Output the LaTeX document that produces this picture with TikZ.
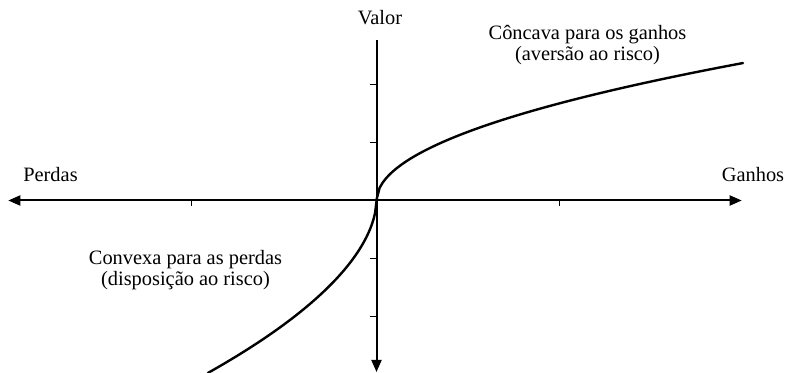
\documentclass[tikz,border=0pt]{standalone}
\usepackage{fontspec}
\setmainfont{Liberation Serif}
\usetikzlibrary{arrows.meta}

\begin{document}
\begin{tikzpicture}[x = 0.5pt, y = 0.5pt,
  every node/.style = {font=\fontsize{10.2pt}{10.5pt}\selectfont, inner sep=0pt},
  axis/.style = {line width=1pt, -{Triangle[length=6pt,width=5pt]}},
  tick/.style = {line width=0.5pt},
  curve/.style = {line width=1.2pt, line cap=round}]

\useasboundingbox (-376.5,-172.5) rectangle (410.5,200.5);

\coordinate (o) at (0,0);
\coordinate (west) at (-368.2,0);
\coordinate (east) at (365.2,0);
\coordinate (north) at (0,160.5);
\coordinate (south) at (0,-171.5);

\draw[axis, {Triangle[length=6pt,width=5pt]}-{Triangle[length=6pt,width=5pt]}] (west) -- (east);
\draw[axis] (north) -- (south);

\foreach \v in {-116.5,-58,58,116.2}
  \draw[tick] (-7,\v) -- (0,\v);
\foreach \u in {-184.8,182.5}
  \draw[tick] (\u,0) -- (\u,-6);

\draw[curve] (o) -- plot[domain=0.01:366.5, samples=120] (\x, {7.18*sqrt(\x)});
\draw[curve] (o) -- plot[domain=0.01:168.5, samples=120] (-\x, {-10.28*\x^0.55});

\node[anchor=base] (valor) at (3.5,175.5) {Valor};
\node[anchor=base] (perdas) at (-326,18.8) {Perdas};
\node[anchor=base] (ganhos) at (376.5,18.8) {Ganhos};

% the base anchor sits on the second line
\node[align=center, anchor=base] (concave) at (211,140) {Côncava para os ganhos\\(aversão ao risco)};
\node[align=center, anchor=base] (convex) at (-191,-85.5) {Convexa para as perdas\\(disposição ao risco)};

\end{tikzpicture}
\end{document}
